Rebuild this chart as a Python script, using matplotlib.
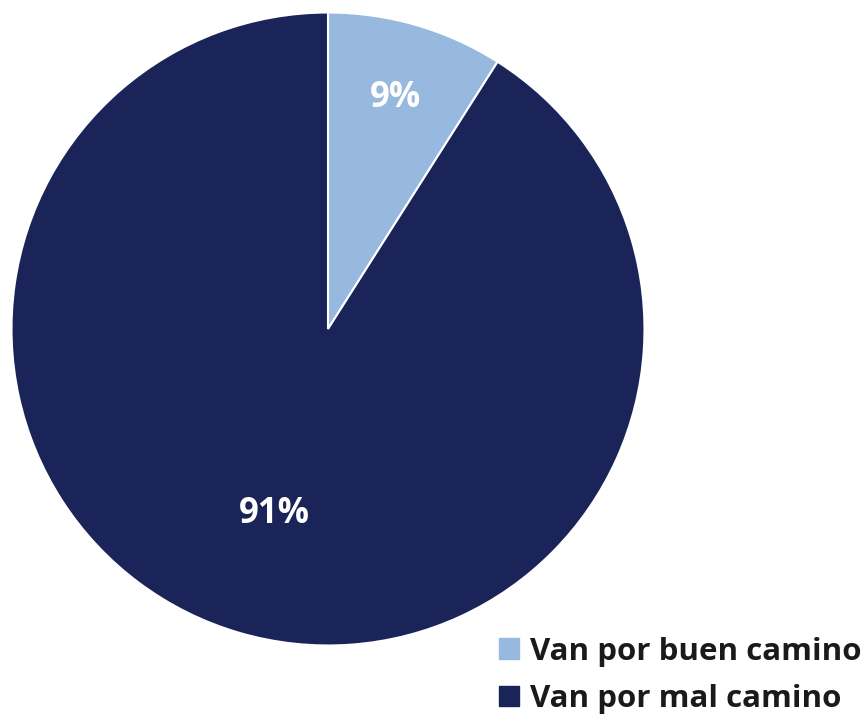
import matplotlib
matplotlib.use("Agg")
import matplotlib.pyplot as plt
import numpy as np

labels = ["Van por buen camino", "Van por mal camino"]
values = [9, 91]
colors = ["#97B9DF", "#1B2459"]
label_dist = [0.76, 0.61]

plt.rcParams["font.family"] = ["Open Sans", "DejaVu Sans"]

W, H = 868, 717
fig = plt.figure(figsize=(W / 100, H / 100), dpi=100)
cx, cy, r = 328, 329, 316.5
ax = fig.add_axes([(cx - r) / W, (H - cy - r) / H, 2 * r / W, 2 * r / H])

wedges, _ = ax.pie(values, colors=colors, startangle=90, counterclock=False,
                   radius=1, wedgeprops=dict(edgecolor="white", linewidth=1.5))
for w, v, d in zip(wedges, values, label_dist):
    ang = np.deg2rad((w.theta1 + w.theta2) / 2)
    ax.text(d * np.cos(ang), d * np.sin(ang), f"{v}%", ha="center", va="center",
            color="white", fontsize=25, fontweight="bold")
ax.set_xlim(-1, 1)
ax.set_ylim(-1, 1)
ax.set_aspect("equal")
ax.axis("off")

handles = [plt.Rectangle((0, 0), 1, 1, color=c) for c in colors]
fig.legend(handles, labels, loc="lower right", bbox_to_anchor=(1.014, -0.022),
           frameon=False, prop=dict(size=22.5, weight="bold"),
           handlelength=0.65, handleheight=0.65, handletextpad=0.35,
           labelspacing=0.55, labelcolor="#1a1a1a", borderaxespad=0.2)

fig.savefig("out.png", dpi=100)
